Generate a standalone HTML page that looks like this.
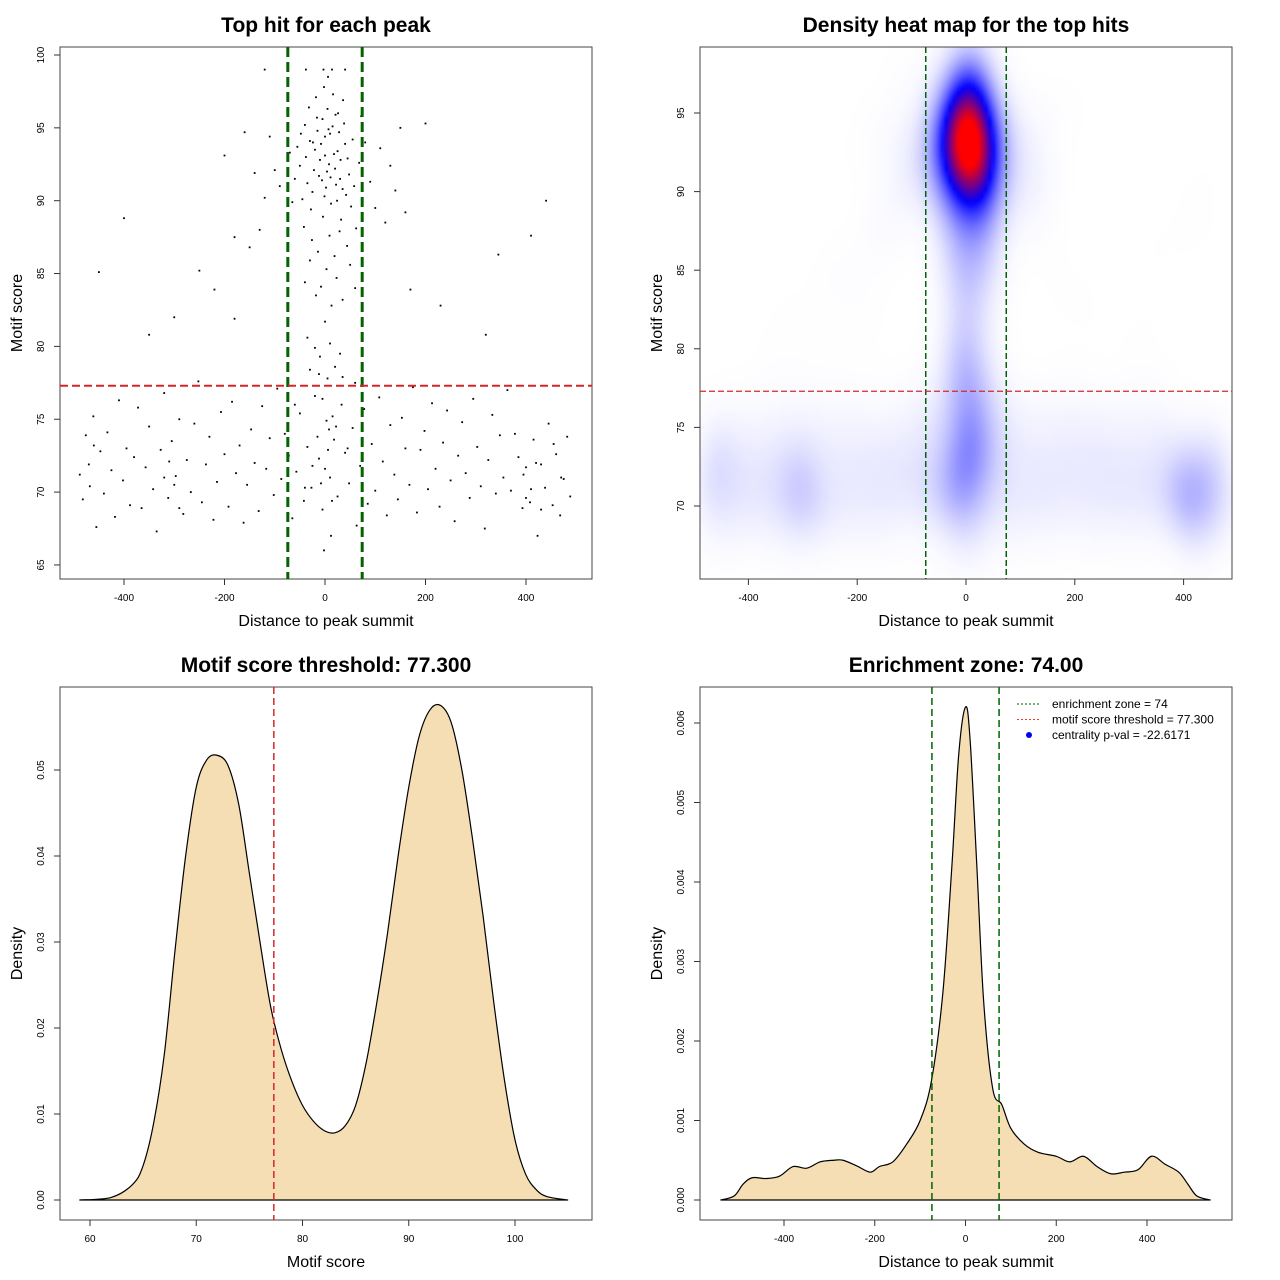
<!DOCTYPE html>
<html><head><meta charset="utf-8">
<style>
html,body{margin:0;padding:0;background:#fff;}
svg{display:block;font-family:"Liberation Sans",sans-serif;}
#heat{position:absolute;left:700px;top:47px;width:532px;height:532px;}
</style></head>
<body>
<div style="position:relative;width:1280px;height:1280px;">
<svg id="root" width="1280" height="1280" viewBox="0 0 1280 1280"></svg>
<canvas id="heat" width="133" height="133"></canvas>
<svg id="over" width="1280" height="1280" viewBox="0 0 1280 1280" style="position:absolute;left:0;top:0"></svg>
</div>
<script>
// ---- scatter data (distance to summit, motif score) ----
const distX = [-40,-30,-20,-10,0,10,20,30,40,-50,-35,-25,-15,-5,5,15,25,35,45,55,-45,-28,-12,2,12,22,32,42,52,-55,-38,-22,-8,8,18,28,38,48,-48,-32,-18,-2,6,16,26,36,58,-60,-42,-26,-14,-4,9,19,29,44,62,-65,-70,68,72,-75,80,90,100,-90,-100,-110,-120,110,120,130,-130,-140,140,150,-160,-150,160,-180,170,-200,-3,14,-38,40,-120,3,-8,13,-18,23,-30,35,-40,50,60,0,10,-10,20,-20,5,-5,15,8,-12,30,-35,0,-6,4,11,-16,21,-24,31,7,-1,24,
-400,-450,440,345,200,230,-180,-250,320,-350,-300,-220,410,
-488,-482,-476,-468,-461,-455,-447,-440,-433,-425,-418,-410,-402,-395,-388,-380,-372,-365,-357,-350,-342,-335,-327,-320,-312,-305,-297,-290,-282,-275,-267,-260,-252,-245,-237,-230,-222,-215,-207,-200,-192,-185,-177,-170,-162,-155,-147,-140,-132,-125,-117,-110,-102,-95,-87,-80,-72,-65,-57,-50,-42,-35,-27,-20,-12,-5,3,10,18,25,33,40,48,55,63,70,78,85,93,100,108,115,123,130,138,145,153,160,168,175,183,190,198,205,213,220,228,235,243,250,258,265,273,280,288,295,303,310,318,325,333,340,348,355,363,370,378,385,393,400,408,415,423,430,438,445,453,460,468,475,482,488,
-8,6,-15,14,0,22,-25,-2,12,-40,45,-60,60,-30,35,
-300,-310,-290,-320,410,420,400,430,395,-460,-470,470,455];
const motifScore = [95.2,94.1,93.5,92.8,93.1,94.6,92.2,91.5,93.9,92.4,91.2,90.6,94.8,95.6,96.3,95.1,93.4,90.8,92.9,94.2,90.1,89.4,91.7,90.9,89.8,91.1,88.7,90.4,89.6,93.7,93.0,92.1,93.9,92.5,93.2,94.7,95.3,91.8,94.6,96.4,97.1,97.8,98.5,97.3,96.0,96.9,91.0,91.5,88.2,87.3,86.5,88.9,87.6,86.2,87.9,86.9,88.1,89.9,93.3,92.6,95.8,96.2,94.0,91.3,89.5,91.0,92.1,94.4,90.2,93.6,88.5,92.4,88.0,91.9,90.7,95.0,94.7,86.8,89.2,87.5,83.9,93.1,99.0,99.0,99.0,99.0,99.0,85.3,84.1,82.8,83.5,84.7,85.9,83.2,84.4,85.6,84.0,81.7,80.2,79.3,78.6,79.9,77.8,76.4,75.2,74.3,78.1,79.5,80.6,94.4,91.4,92.0,91.6,95.7,95.9,94.0,92.8,94.9,90.3,90.0,
88.8,85.1,90.0,86.3,95.3,82.8,81.9,85.2,80.8,80.8,82.0,83.9,87.6,
71.2,69.5,73.9,70.4,75.2,67.6,72.8,69.9,74.1,71.5,68.3,76.3,70.8,73.0,69.1,72.4,75.8,68.9,71.7,74.5,70.2,67.3,72.9,76.8,69.6,73.5,71.1,75.0,68.5,72.2,70.0,74.7,77.6,69.3,71.9,73.8,68.1,70.7,75.5,72.6,69.0,76.2,71.3,73.2,67.9,70.5,74.3,72.0,68.7,75.9,71.6,73.7,69.8,77.1,70.9,74.0,72.5,68.2,71.4,75.4,69.4,73.1,70.3,76.6,72.3,68.8,74.9,71.0,73.6,69.7,76.0,72.7,70.6,74.4,67.7,71.8,75.7,69.2,73.3,70.1,76.5,72.1,68.4,74.6,71.2,69.5,75.1,73.0,70.5,77.2,68.6,72.9,74.2,70.2,76.1,71.6,69.0,73.4,75.6,70.8,68.0,72.5,74.8,71.3,69.6,76.4,73.1,70.4,67.5,72.2,75.3,69.9,73.9,71.0,77.0,70.1,74.0,72.4,68.9,71.7,69.3,73.6,67.0,71.9,70.3,74.7,69.1,72.6,68.4,70.9,73.8,69.7,
70.6,72.9,73.8,69.4,71.6,74.5,71.8,66.0,67.0,70.3,73.0,76.0,77.5,78.4,77.9,
70.5,72.1,68.9,71.0,70.2,72.0,69.6,68.8,71.2,73.2,71.9,71.0,73.3];

// ---- density curves ----
const scoreGrid = [59,62,64,65,66,67,68,69,70,71,72,73,74,75,76,77,78,79,80,81,82,83,84,85,86,87,88,89,90,91,92,93,94,95,96,97,98,99,100,101,102,103,105];
const scoreDensity = [0,0.0003,0.0018,0.004,0.009,0.017,0.029,0.040,0.048,0.0512,0.0517,0.0505,0.046,0.038,0.030,0.0225,0.0175,0.0138,0.0110,0.0092,0.0081,0.0078,0.0086,0.011,0.016,0.023,0.031,0.040,0.048,0.054,0.057,0.0575,0.0555,0.050,0.042,0.033,0.023,0.014,0.007,0.003,0.0012,0.0004,0];
const distGrid = [-540,-510,-490,-470,-440,-410,-380,-350,-320,-290,-270,-240,-210,-190,-160,-130,-100,-75,-50,-30,-15,0,10,25,40,60,80,100,130,160,200,230,260,290,320,350,380,410,440,470,490,510,540];
const distDensity = [0,0.00005,0.0002,0.00028,0.00027,0.0003,0.00042,0.0004,0.00048,0.0005,0.0005,0.00043,0.00035,0.00042,0.00048,0.0007,0.001,0.0015,0.0026,0.0042,0.0056,0.0062,0.0058,0.0042,0.0025,0.0014,0.0012,0.0009,0.0007,0.0006,0.00055,0.00048,0.00055,0.00042,0.00033,0.00035,0.00038,0.00055,0.00045,0.00035,0.0002,0.00005,0];

const ticks1x=[-400,-200,0,200,400], ticks1y=[65,70,75,80,85,90,95,100];
const ticks2y=[70,75,80,85,90,95];
const ticks3x=[60,70,80,90,100], ticks3y=[0,0.01,0.02,0.03,0.04,0.05];
const ticks4x=[-400,-200,0,200,400], ticks4y=[0,0.001,0.002,0.003,0.004,0.005,0.006];
const threshold=77.3, zone=74;

const NS="http://www.w3.org/2000/svg";
function mk(parent,tag,attrs,text){const e=document.createElementNS(NS,tag);for(const k in attrs)e.setAttribute(k,attrs[k]);if(text!==undefined)e.textContent=text;parent.appendChild(e);return e;}
const root=document.getElementById('root'), over=document.getElementById('over');

const P1={l:60,r:592,t:47,b:579,sx:v=>325+v*0.5025,sy:v=>55+(100-v)*14.57};
const P2={l:700,r:1232,t:47,b:579,sx:v=>966+v*0.544,sy:v=>113+(95-v)*15.72};
const P3={l:60,r:592,t:687,b:1220,sx:v=>90+(v-60)*10.625,sy:v=>1200-v*8600};
const P4={l:700,r:1232,t:687,b:1220,sx:v=>965.5+v*0.45375,sy:v=>1200-v*79500};

function frame(svg,P,name,title,xlab,ylab,xt,yt,fmt){
  const g=mk(svg,'g',{});
  
  
  const box=mk(g,'rect',{x:P.l,y:P.t,width:P.r-P.l,height:P.b-P.t,fill:'none',stroke:'#444','stroke-width':1});
  
  const t=mk(g,'text',{x:(P.l+P.r)/2,y:P.t-15,'text-anchor':'middle','font-size':21,'font-weight':'bold'},title);
  
  const xl=mk(g,'text',{x:(P.l+P.r)/2,y:P.b+47,'text-anchor':'middle','font-size':16},xlab);
  
  const cy=(P.t+P.b)/2;
  const yl=mk(g,'text',{x:P.l-38,y:cy,'text-anchor':'middle','font-size':16,transform:`rotate(-90 ${P.l-38} ${cy})`},ylab);
  
  xt.forEach(v=>{const x=P.sx(v);mk(g,'line',{x1:x,x2:x,y1:P.b,y2:P.b+6,stroke:'#333'});
    const tx=mk(g,'text',{x:x,y:P.b+22,'text-anchor':'middle','font-size':10},String(v));
    });
  yt.forEach(v=>{const y=P.sy(v);mk(g,'line',{x1:P.l-6,x2:P.l,y1:y,y2:y,stroke:'#333'});
    const tx=mk(g,'text',{x:P.l-16,y:y,'text-anchor':'middle','font-size':10,transform:`rotate(-90 ${P.l-16} ${y})`},fmt?fmt(v):String(v));
    });
  return g;
}
function vline(svg,P,x,col,w,dash,name){const l=mk(svg,'line',{x1:x,x2:x,y1:P.t,y2:P.b,stroke:col,'stroke-width':w,'stroke-dasharray':dash});}
function hline(svg,P,y,col,w,dash,name){const l=mk(svg,'line',{x1:P.l,x2:P.r,y1:y,y2:y,stroke:col,'stroke-width':w,'stroke-dasharray':dash});}

// Panel 1 scatter
frame(root,P1,'scatter-panel','Top hit for each peak','Distance to peak summit','Motif score',ticks1x,ticks1y);
const dots=mk(root,'g',{fill:'#000'});

distX.forEach((d,i)=>{const c=mk(dots,'rect',{x:P1.sx(d)-0.9,y:P1.sy(motifScore[i])-0.9,width:1.8,height:1.8});
  });
vline(root,P1,P1.sx(-zone),'#006400',3,'10 5','enrichment-left-line');
vline(root,P1,P1.sx(zone),'#006400',3,'10 5','enrichment-right-line');
hline(root,P1,P1.sy(threshold),'#d62728',2,'8 4','threshold-line');

// Panel 2 heatmap
frame(over,P2,'heatmap-panel','Density heat map for the top hits','Distance to peak summit','Motif score',ticks1x,ticks2y);
(function(){
  const cv=document.getElementById('heat'),ctx=cv.getContext('2d');const N=133;
  const img=ctx.createImageData(N,N);const vals=new Float32Array(N*N);let mx=0;
  const hx=32,hy=2.3;
  for(let j=0;j<N;j++){const py=P2.t+(j+0.5)*4;const yv=95-(py-113)/15.72;
    for(let i=0;i<N;i++){const px=P2.l+(i+0.5)*4;const xv=(px-966)/0.544;let s=0;
      for(let k=0;k<distX.length;k++){const dx=(xv-distX[k])/hx,dy=(yv-motifScore[k])/hy;const q=dx*dx+dy*dy;if(q<16)s+=Math.exp(-0.5*q);}
      vals[j*N+i]=s;if(s>mx)mx=s;}}
  for(let p=0;p<N*N;p++){let t=vals[p]/mx;t=Math.min(1,Math.pow(t,2.2)*1.15);let r,g,b;
    if(t<0.5){const u=t/0.5;r=255*(1-u);g=255*(1-u);b=255;}else{const u=(t-0.5)/0.5;r=255*u;g=0;b=255*(1-u);}
    img.data[p*4]=r;img.data[p*4+1]=g;img.data[p*4+2]=b;img.data[p*4+3]=255;}
  ctx.putImageData(img,0,0);
})();
vline(over,P2,P2.sx(-zone),'#006400',1.5,'6 3','enrichment-left-line');
vline(over,P2,P2.sx(zone),'#006400',1.5,'6 3','enrichment-right-line');
hline(over,P2,P2.sy(threshold),'#d62728',1.2,'6 3','threshold-line');

function curve(svg,P,xs,ys,name){
  const pts=xs.map((x,i)=>[P.sx(x),P.sy(ys[i])]);
  let d=`M${pts[0][0]},${pts[0][1]}`;
  for(let i=0;i<pts.length-1;i++){const p0=pts[Math.max(0,i-1)],p1=pts[i],p2=pts[i+1],p3=pts[Math.min(pts.length-1,i+2)];
    const c1=[p1[0]+(p2[0]-p0[0])/6,p1[1]+(p2[1]-p0[1])/6],c2=[p2[0]-(p3[0]-p1[0])/6,p2[1]-(p3[1]-p1[1])/6];
    d+=` C${c1[0]},${c1[1]} ${c2[0]},${c2[1]} ${p2[0]},${p2[1]}`;}
  const area=mk(svg,'path',{d:d+' Z',fill:'#F5DEB3',stroke:'#000','stroke-width':1.2});
  
}

// Panel 3
frame(root,P3,'score-density-panel','Motif score threshold: 77.300','Motif score','Density',ticks3x,ticks3y,v=>v.toFixed(2));
curve(root,P3,scoreGrid,scoreDensity,'score-density-curve');
vline(root,P3,P3.sx(threshold),'#d62728',1.5,'7 4','threshold-line');

// Panel 4
frame(root,P4,'distance-density-panel','Enrichment zone: 74.00','Distance to peak summit','Density',ticks4x,ticks4y,v=>v.toFixed(3));
curve(root,P4,distGrid,distDensity,'distance-density-curve');
vline(root,P4,P4.sx(-zone),'#006400',1.5,'7 4','enrichment-left-line');
vline(root,P4,P4.sx(zone),'#006400',1.5,'7 4','enrichment-right-line');
const lg=mk(root,'g',{'font-size':12});

[['enrichment zone = 74','#006400'],['motif score threshold = 77.300','#ff3030'],['centrality p-val = -22.6171',null]].forEach((e,i)=>{
  const y=704+i*15.5;
  if(e[1]){mk(lg,'line',{x1:1017,x2:1041,y1:y,y2:y,stroke:e[1],'stroke-width':1,'stroke-dasharray':'2 2'});}
  else{mk(lg,'circle',{cx:1029,cy:y,r:3,fill:'#0000ff'});}
  const t=mk(lg,'text',{x:1052,y:y+4},e[0]);
  
});
</script>
</body></html>
